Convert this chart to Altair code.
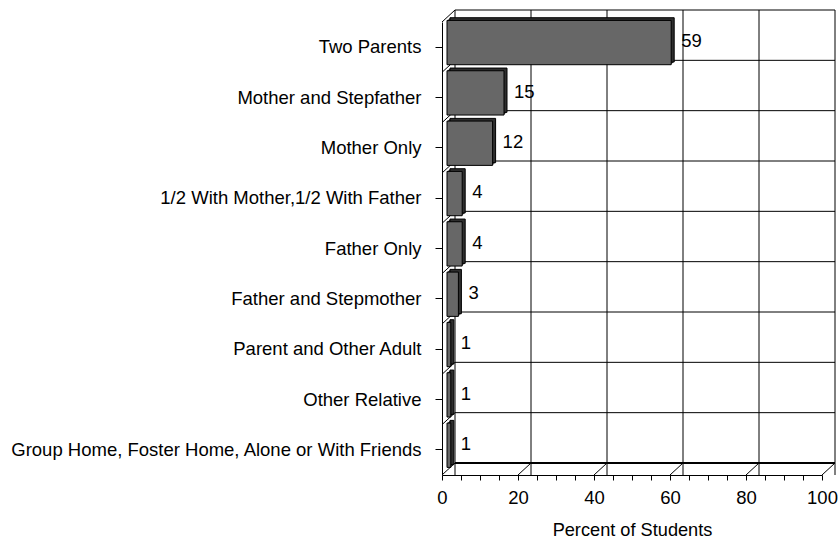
import altair as alt
import pandas as pd

# Living arrangements of students (percent)
CATEGORIES = [
    "Two Parents",
    "Mother and Stepfather",
    "Mother Only",
    "1/2 With Mother,1/2 With Father",
    "Father Only",
    "Father and Stepmother",
    "Parent and Other Adult",
    "Other Relative",
    "Group Home, Foster Home, Alone or With Friends",
]
PERCENTS = [59, 15, 12, 4, 4, 3, 1, 1, 1]
GRID_VALUES = [0, 20, 40, 60, 80, 100]
TICK_VALUES = list(range(0, 101, 5))
X_TITLE = "Percent of Students"

FONT = "Liberation Sans"
LABEL_SIZE = 18.5
TITLE_SIZE = 18.2

# 3-D look: pixel shift of the back wall and of the bars relative to the front plane
WALL_DX, WALL_DY = 13, -12
BAR_DX, BAR_DY = 5, -4.6
EXTRUDE_STEPS = [(6, -5.5), (7, -6.4), (8, -7.3)]
DIAG_PATH = f"M0,0L1,{WALL_DY / WALL_DX:.4f}"
DIAG_SIZE = (2 * WALL_DX) ** 2

FACE_COLOR = "#676767"
SIDE_COLOR = "#2e2e2e"

bars_df = pd.DataFrame({"category": CATEGORIES, "percent": PERCENTS})
rows_df = pd.DataFrame({"category": CATEGORIES})
last_row_df = pd.DataFrame({"category": CATEGORIES[-1:]})
floor_df = pd.DataFrame({"percent": GRID_VALUES, "category": CATEGORIES[-1]})

x_scale = alt.Scale(domain=[0, 100], nice=False, zero=True)
y_scale = alt.Scale(domain=CATEGORIES, paddingInner=0, paddingOuter=0)

# every layer carries the same axis definitions so they merge into one
x_axis = alt.Axis(
    values=TICK_VALUES, title=X_TITLE, grid=False,
    labelExpr="datum.value % 20 == 0 ? datum.label : ''",
    tickSize=5, labelPadding=8, titlePadding=15,
    labelOverlap=False, labelFlush=False, labelBound=False,
)
y_axis = alt.Axis(
    title=None, grid=False, tickSize=7, labelPadding=14,
    labelLimit=0, labelOverlap=False,
)


def x_field():
    return alt.X("percent:Q", scale=x_scale, axis=x_axis, title=X_TITLE)


def x_datum(v):
    return alt.X(datum=v, scale=x_scale, axis=x_axis, title=X_TITLE)


def y_field(pos=None):
    if pos is None:
        return alt.Y("category:N", scale=y_scale, sort=None, axis=y_axis, title=None)
    return alt.Y("category:N", scale=y_scale, sort=None, axis=y_axis, title=None,
                 bandPosition=pos)


# back wall: vertical gridlines
back_vertical = alt.Chart(floor_df).mark_rule(
    color="black", strokeWidth=1, xOffset=WALL_DX, yOffset=WALL_DY, y2Offset=WALL_DY
).encode(x=x_field())

# back wall: horizontal lines at the category boundaries
back_horizontal = alt.Chart(rows_df).mark_rule(
    color="black", strokeWidth=1,
    xOffset=WALL_DX, x2Offset=WALL_DX, yOffset=WALL_DY,
).encode(x=x_datum(0), x2=alt.X2(datum=100), y=y_field(0))

back_bottom = alt.Chart(last_row_df).mark_rule(
    color="black", strokeWidth=2,
    xOffset=WALL_DX, x2Offset=WALL_DX, yOffset=WALL_DY,
).encode(x=x_datum(0), x2=alt.X2(datum=100), y=y_field(1))

# side wall diagonals
side_diagonals = alt.Chart(rows_df).mark_point(
    shape=DIAG_PATH, size=DIAG_SIZE, filled=False, color="black",
    strokeWidth=1, opacity=1,
).encode(x=x_datum(0), y=y_field(0))

# floor diagonals
floor_diagonals = alt.Chart(floor_df).mark_point(
    shape=DIAG_PATH, size=DIAG_SIZE, filled=False, color="black",
    strokeWidth=1, opacity=1,
).encode(x=x_field(), y=y_field(1))

bar_height = alt.RelativeBandSize(band=0.88)

# bar depth (top and side faces)
extrusions = []
for i, (dx, dy) in enumerate(EXTRUDE_STEPS):
    last = i == len(EXTRUDE_STEPS) - 1
    extrusions.append(
        alt.Chart(bars_df).mark_bar(
            height=bar_height, color=SIDE_COLOR,
            stroke="black" if last else SIDE_COLOR, strokeWidth=1 if last else 0,
            xOffset=dx, x2Offset=dx, yOffset=dy, y2Offset=dy,
        ).encode(x=x_field(), y=y_field())
    )

# bar front faces
faces = alt.Chart(bars_df).mark_bar(
    height=bar_height, color=FACE_COLOR, stroke="black", strokeWidth=1,
    xOffset=BAR_DX, x2Offset=BAR_DX, yOffset=BAR_DY, y2Offset=BAR_DY,
).encode(x=x_field(), y=y_field())

labels = alt.Chart(bars_df).mark_text(
    align="left", baseline="middle", dx=15, dy=-6, fontSize=LABEL_SIZE,
    font=FONT, color="black",
).encode(x=x_field(), y=y_field(), text=alt.Text("percent:Q"))

chart = alt.layer(
    back_vertical, back_horizontal, back_bottom, side_diagonals, floor_diagonals,
    *extrusions, faces, labels,
).properties(
    width=380,
    height=453,
    autosize=alt.AutoSizeParams(type="none"),
    padding={"left": 442, "top": 22, "right": 16, "bottom": 64},
    background="white",
).configure_view(
    stroke=None
).configure_axis(
    domainColor="black", tickColor="black", labelColor="black", titleColor="black",
    labelFont=FONT, titleFont=FONT, labelFontSize=LABEL_SIZE, titleFontSize=TITLE_SIZE,
    titleFontWeight="normal", domainWidth=1, tickWidth=1,
)

chart.save("out.html", embed_options={"renderer": "svg", "actions": False})
